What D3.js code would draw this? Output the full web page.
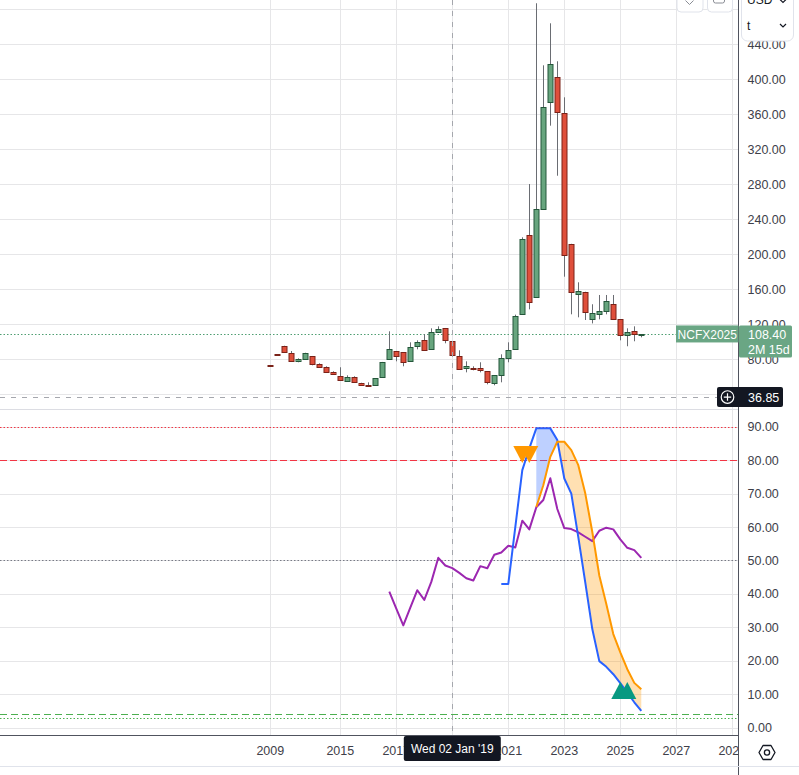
<!DOCTYPE html>
<html><head><meta charset="utf-8">
<script src="https://cdn.jsdelivr.net/npm/d3@7"></script>
<style>html,body{margin:0;padding:0;background:#fff;overflow:hidden}text{font-family:"Liberation Sans",Arial,sans-serif}</style>
</head><body><svg id="c" width="799" height="775"></svg>
<script>
// ---------- DATA ----------
const dates = ["2009-Q4","2012-Q4","2013-Q1","2013-Q2","2013-Q3","2013-Q4","2014-Q1","2014-Q2","2014-Q3","2014-Q4",
 "2015-Q1","2015-Q2","2015-Q3","2015-Q4","2016-Q1","2016-Q2","2016-Q3","2016-Q4",
 "2017-Q1","2017-Q2","2017-Q3","2017-Q4","2018-Q1","2018-Q2","2018-Q3","2018-Q4",
 "2019-Q1","2019-Q2","2019-Q3","2019-Q4","2020-Q1","2020-Q2","2020-Q3","2020-Q4",
 "2021-Q1","2021-Q2","2021-Q3","2021-Q4","2022-Q1","2022-Q2","2022-Q3","2022-Q4",
 "2023-Q1","2023-Q2","2023-Q3","2023-Q4","2024-Q1","2024-Q2","2024-Q3","2024-Q4",
 "2025-Q1","2025-Q2","2025-Q3","2025-Q4"];
const openP  = [73.2,85.8,94.9,86.9,77.7,80.0,83.4,74.3,70.9,65.1,60.6,54.9,59.4,52.6,50.4,50.3,59.4,80.0,89.1,88.0,77.7,94.9,101.7,91.4,111.6,115.4,100.6,83.4,69.7,69.9,69.7,66.3,52.6,61.7,81.1,91.4,131.4,221.7,150.9,251.4,373.7,402.3,361.1,211.4,154.3,156.6,125.7,131.4,134.9,142.9,125.7,107.4,112.0,108.3];
const highP  = [73.2,85.8,95.5,89.5,81.1,87.5,83.8,75.4,72.0,66.3,70.9,61.7,60.6,53.2,53.7,58.6,77.0,112.0,89.5,88.3,99.4,101.7,108.6,115.4,117.7,115.8,100.9,90.3,77.7,72.0,76.6,66.6,62.0,85.7,99.4,131.0,219.4,280.3,486.9,416.0,464.0,420.6,379.4,212.0,168.0,157.2,142.9,153.5,153.5,153.5,126.0,115.4,117.7,108.6];
const lowP   = [73.0,85.6,87.5,77.0,76.6,79.5,73.1,70.6,64.8,62.6,55.7,54.6,53.4,50.0,49.1,49.5,59.1,79.7,77.7,72.0,77.4,91.4,90.0,91.1,111.3,98.3,84.3,68.3,65.1,67.4,65.1,51.4,50.3,53.7,76.6,90.9,130.8,137.1,150.3,250.8,347.0,289.8,174.4,131.4,128.0,124.9,121.0,125.7,131.4,125.2,101.7,94.9,100.6,105.1];
const closeP = [73.0,85.6,88.0,77.7,80.0,86.9,74.3,70.9,65.1,62.9,56.0,59.4,53.7,50.3,50.3,58.3,76.6,91.4,83.4,76.6,93.7,99.4,90.3,110.9,114.3,101.7,84.6,68.6,72.0,69.7,67.4,53.7,61.7,81.1,90.3,129.5,217.1,145.1,251.4,368.0,417.1,362.3,198.9,156.6,157.7,133.7,132.6,134.9,146.3,125.7,107.4,110.9,108.6,108.4];

const purpleStart = 17;
const purpleVals = [40.7,35.6,30.6,35.9,41.1,38.2,43.6,50.8,48.5,47.7,46.3,44.7,44.0,48.3,47.7,51.7,52.4,54.4,53.9,61.9,59.3,65.9,68.1,74.6,65.4,59.7,59.4,58.4,57.1,55.8,58.9,59.8,59.3,56.3,53.8,53.1,50.8];
const blueStart = 33;
const blueVals = [43.0,43.0,60.0,77.0,83.5,89.5,89.5,89.5,86.0,74.5,70.0,57.0,43.4,29.5,19.9,18.2,16.0,13.3,10.5,7.6,5.0];
const orangeStart = 38;
const orangeVals = [66.0,72.5,81.0,85.5,85.5,83.0,78.5,70.0,58.5,45.5,37.0,28.0,22.5,17.5,13.4,11.5];

const sellIdx = [36,37], sellVal = 81.7;
const buyIdx = [50,51], buyVal = 11.1;

const priceTicks = [40,80,120,160,200,240,280,320,360,400,440,480];
const priceLabelTicks = [80,120,160,200,240,280,320,360,400,440];
const oscTicks = [0,10,20,30,40,50,60,70,80,90];
const oscLevels = [90,80,50,4,3];
const yearLabels = ["2009","2015","2017","2019","2021","2023","2025","2027","2029"];
const yearIndex = [0,10,18,26,34,42,50,58,66];
const lastPrice = 108.40, lastLabel = "NCFX2025", countdown = "2M 15d";
const crossIdx = 26, crossPrice = 36.85, crossTimeLabel = "Wed 02 Jan '19";

// ---------- LAYOUT ----------
const W=799, AX=738.5, PB=409, OT=410, TT=735.5;
const x  = d3.scaleLinear().domain([0,66]).range([270.3,732.3]);
const yP = d3.scaleLinear().domain([80,440]).range([359.3,44.3]);
const yO = d3.scaleLinear().domain([0,90]).range([727.7,426.7]);
const px = i => Math.round(x(i)) + 0.5;
const fmt = d3.format(".2f");
const FS = 12.5;

const svg = d3.select("#c");
const defs = svg.append("defs");
defs.append("clipPath").attr("id","cp").append("rect").attr("x",0).attr("y",0).attr("width",AX).attr("height",PB);
defs.append("clipPath").attr("id","co").append("rect").attr("x",0).attr("y",OT).attr("width",AX).attr("height",TT-OT);
defs.append("clipPath").attr("id","ct").append("rect").attr("x",0).attr("y",TT).attr("width",AX).attr("height",40);

const GRID="#e6e6e8";
const grid = svg.append("g");
grid.selectAll(".vg").data(yearIndex).join("line")
  .attr("x1",d=>px(d)).attr("x2",d=>px(d)).attr("y1",0).attr("y2",TT).attr("stroke",GRID);
grid.append("g").attr("clip-path","url(#cp)").selectAll("line").data(priceTicks).join("line")
  .attr("x1",0).attr("x2",AX).attr("y1",d=>Math.round(yP(d))+0.5).attr("y2",d=>Math.round(yP(d))+0.5).attr("stroke",GRID);
grid.append("g").attr("clip-path","url(#co)").selectAll("line").data(oscTicks).join("line")
  .attr("x1",0).attr("x2",AX).attr("y1",d=>Math.round(yO(d))+0.5).attr("y2",d=>Math.round(yO(d))+0.5).attr("stroke",GRID);

svg.append("line").attr("x1",0).attr("x2",W).attr("y1",PB+0.5).attr("y2",PB+0.5).attr("stroke","#dcdde3");

const levelStyle = {90:["#f23645","1.5,2"],80:["#f23645","7,3"],50:["#787b86","1.5,2"],4:["#4caf50","7,4"],3:["#4caf50","1.5,2"]};
svg.append("g").attr("clip-path","url(#co)").selectAll("line").data(oscLevels).join("line")
  .attr("x1",0).attr("x2",AX).attr("y1",d=>Math.round(yO(d))+0.5).attr("y2",d=>Math.round(yO(d))+0.5)
  .attr("stroke",d=>levelStyle[d][0]).attr("stroke-dasharray",d=>levelStyle[d][1]);

svg.append("line").attr("x1",0).attr("x2",676).attr("y1",Math.round(yP(lastPrice))+0.5).attr("y2",Math.round(yP(lastPrice))+0.5)
  .attr("stroke","#4f9e72").attr("stroke-dasharray","1.5,2");

// candles
const candles = dates.map((d,i)=>({i,o:openP[i],h:highP[i],l:lowP[i],c:closeP[i]}));
const cg = svg.append("g").attr("clip-path","url(#cp)");
cg.selectAll(".wick").data(candles).join("line")
  .attr("x1",d=>px(d.i)).attr("x2",d=>px(d.i)).attr("y1",d=>yP(d.h)).attr("y2",d=>yP(d.l))
  .attr("stroke","#6a6d73").attr("stroke-width",1);
cg.selectAll(".body").data(candles).join("rect")
  .attr("x",d=>px(d.i)-2.5).attr("width",5)
  .attr("y",d=>Math.round(yP(Math.max(d.o,d.c)))+0.5)
  .attr("height",d=>Math.max(1,Math.round(yP(Math.min(d.o,d.c)))-Math.round(yP(Math.max(d.o,d.c)))))
  .attr("fill",d=>d.c>d.o?"#67a57e":"#df4f3b")
  .attr("stroke",d=>d.c>d.o?"#24563a":"#7a2218").attr("stroke-width",1);

// oscillator
const og = svg.append("g").attr("clip-path","url(#co)");
const pts=[];
for(let i=orangeStart;i<orangeStart+orangeVals.length;i++){
  const b=blueVals[i-blueStart], o=orangeVals[i-orangeStart];
  if(pts.length){const p=pts[pts.length-1];const d1=p.b-p.o,d2=b-o;
    if(d1*d2<0){const t=d1/(d1-d2);pts.push({i:p.i+t,b:p.b+t*(b-p.b),o:p.o+t*(o-p.o)});}}
  pts.push({i,b,o});
}
og.append("path").attr("d",d3.area().x(d=>x(d.i)).y0(d=>yO(d.o)).y1(d=>yO(Math.max(d.b,d.o)))(pts))
  .attr("fill","rgba(41,98,255,0.3)");
og.append("path").attr("d",d3.area().x(d=>x(d.i)).y0(d=>yO(d.b)).y1(d=>yO(Math.max(d.b,d.o)))(pts))
  .attr("fill","rgba(255,152,0,0.3)");
const line = d3.line().x(d=>x(d.i)).y(d=>yO(d.v));
const ser = (start,vals)=>vals.map((v,k)=>({i:start+k,v}));
og.append("path").attr("d",line(ser(purpleStart,purpleVals))).attr("fill","none").attr("stroke","#9c27b0").attr("stroke-width",2).attr("stroke-linejoin","round");
og.append("path").attr("d",line(ser(blueStart,blueVals))).attr("fill","none").attr("stroke","#2962ff").attr("stroke-width",2).attr("stroke-linejoin","round");
og.append("path").attr("d",line(ser(orangeStart,orangeVals))).attr("fill","none").attr("stroke","#ff9800").attr("stroke-width",2).attr("stroke-linejoin","round");
og.selectAll(".sell").data(sellIdx).join("path")
  .attr("d",d=>{const cx=x(d),cy=yO(sellVal);return `M${cx-9},${cy-8.5}L${cx+9},${cy-8.5}L${cx},${cy+8.5}Z`;})
  .attr("fill","#ff9800");
og.selectAll(".buy").data(buyIdx).join("path")
  .attr("d",d=>{const cx=x(d),cy=yO(buyVal);return `M${cx-9},${cy+8.5}L${cx+9},${cy+8.5}L${cx},${cy-8.5}Z`;})
  .attr("fill","#089981");

// crosshair
svg.append("line").attr("x1",px(crossIdx)).attr("x2",px(crossIdx)).attr("y1",0).attr("y2",TT)
  .attr("stroke","#a5a7ad").attr("stroke-dasharray","5,6");
svg.append("line").attr("x1",0).attr("x2",717).attr("y1",Math.round(yP(crossPrice))+0.5).attr("y2",Math.round(yP(crossPrice))+0.5)
  .attr("stroke","#a5a7ad").attr("stroke-dasharray","5,6");

// axes
svg.append("rect").attr("x",AX).attr("y",0).attr("width",W-AX).attr("height",775).attr("fill","#fff");
svg.append("line").attr("x1",AX).attr("x2",AX).attr("y1",0).attr("y2",775).attr("stroke","#50535e");
svg.append("line").attr("x1",0).attr("x2",AX).attr("y1",TT).attr("y2",TT).attr("stroke","#50535e");
svg.append("line").attr("x1",0).attr("x2",W).attr("y1",766.5).attr("y2",766.5).attr("stroke","#e0e3eb");

const LBL="#3e4049";
svg.append("g").selectAll("text").data(priceLabelTicks).join("text")
  .attr("x",747.5).attr("y",d=>yP(d)).attr("dy","0.36em").attr("font-size",FS).attr("fill",LBL).text(d=>fmt(d));
svg.append("g").selectAll("text").data(oscTicks).join("text")
  .attr("x",747.5).attr("y",d=>yO(d)).attr("dy","0.36em").attr("font-size",FS).attr("fill",LBL).text(d=>fmt(d));
const cx = x(crossIdx);
svg.append("g").attr("clip-path","url(#ct)").selectAll("text")
  .data(yearLabels.map((t,k)=>({t,i:yearIndex[k]})).filter(d=>Math.abs(x(d.i)-cx)>30)).join("text")
  .attr("x",d=>x(d.i)).attr("y",750).attr("dy","0.36em").attr("text-anchor","middle")
  .attr("font-size",FS).attr("fill",LBL).text(d=>d.t);

// last price labels
const ly = yP(lastPrice);
svg.append("rect").attr("x",676).attr("y",ly-9).attr("width",AX-676).attr("height",17).attr("fill","#6aa684");
svg.append("text").attr("x",(676+AX)/2).attr("y",ly).attr("dy","0.36em").attr("text-anchor","middle").attr("font-size",12).attr("fill","#fff").text(lastLabel);
svg.append("rect").attr("x",AX+0.5).attr("y",ly-9).attr("width",53).attr("height",32).attr("rx",1.5).attr("fill","#6aa684");
svg.append("text").attr("x",748).attr("y",ly).attr("dy","0.36em").attr("font-size",FS).attr("fill","#fff").text(fmt(lastPrice));
svg.append("text").attr("x",748).attr("y",ly+15).attr("dy","0.36em").attr("font-size",FS).attr("fill","#fff").text(countdown);

// crosshair labels
const cy = yP(crossPrice);
svg.append("rect").attr("x",717).attr("y",cy-10).attr("width",66).attr("height",20).attr("rx",2).attr("fill","#131722");
svg.append("circle").attr("cx",727.5).attr("cy",cy).attr("r",6.3).attr("fill","none").attr("stroke","#fff").attr("stroke-width",1.2);
svg.append("path").attr("d",`M${723.8},${cy}H${731.2}M727.5,${cy-3.7}V${cy+3.7}`).attr("stroke","#fff").attr("stroke-width",1.2);
svg.append("text").attr("x",748).attr("y",cy).attr("dy","0.36em").attr("font-size",FS).attr("fill","#fff").text(fmt(crossPrice));
svg.append("rect").attr("x",cx-48.5).attr("y",736).attr("width",97).attr("height",25).attr("rx",2).attr("fill","#131722");
svg.append("text").attr("x",cx).attr("y",749).attr("dy","0.36em").attr("text-anchor","middle").attr("font-size",12).attr("fill","#fff").text(crossTimeLabel);

// settings icon
const gx=767, gy=752.5;
svg.append("path").attr("d",`M${gx-8},${gy}L${gx-4},${gy-7}L${gx+4},${gy-7}L${gx+8},${gy}L${gx+4},${gy+7}L${gx-4},${gy+7}Z`)
  .attr("fill","none").attr("stroke","#131722").attr("stroke-width",1.3).attr("stroke-linejoin","round");
svg.append("circle").attr("cx",gx).attr("cy",gy).attr("r",2.6).attr("fill","none").attr("stroke","#131722").attr("stroke-width",1.3);

// top buttons
svg.append("rect").attr("x",677).attr("y",-10).attr("width",26).attr("height",22).attr("rx",4).attr("fill","#fff").attr("stroke","#e0e3eb");
svg.append("path").attr("d","M685.5,0.5L689.5,4.5L693.5,0.5").attr("fill","none").attr("stroke","#8a8d95").attr("stroke-width",1);
svg.append("rect").attr("x",707.5).attr("y",-10).attr("width",25).attr("height",22).attr("rx",4).attr("fill","#fff").attr("stroke","#e0e3eb");
svg.append("rect").attr("x",713.5).attr("y",-6).attr("width",11).attr("height",9).attr("rx",2).attr("fill","none").attr("stroke","#8a8d95");
// currency / unit dropdown
svg.append("rect").attr("x",741.5).attr("y",-10).attr("width",52).attr("height",51).attr("rx",6).attr("fill","#fff").attr("stroke","#e0e3eb");
svg.append("text").attr("x",747).attr("y",4).attr("font-size",12).attr("fill","#131722").text("USD");
svg.append("text").attr("x",747).attr("y",30).attr("font-size",12).attr("fill","#131722").text("t");
svg.append("path").attr("d","M780,-0.5L783,2.5L786,-0.5M780,24L783,27L786,24").attr("fill","none").attr("stroke","#131722").attr("stroke-width",1.2);
</script></body></html>
